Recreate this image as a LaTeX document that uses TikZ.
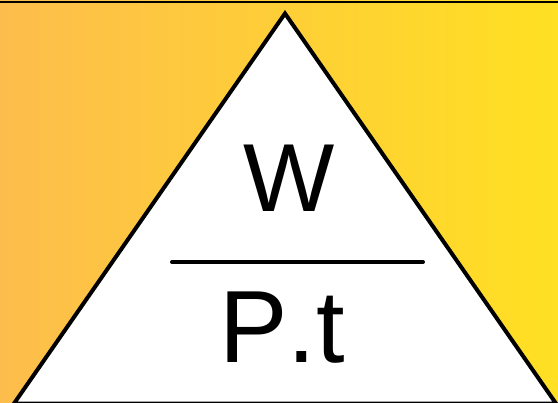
\documentclass[tikz,border=0pt]{standalone}
\usepackage{fontspec}
\setmainfont{Liberation Sans}[Kerning=Off]
\definecolor{bgleft}{RGB}{253,189,76}
\definecolor{bgright}{RGB}{255,224,34}
\tikzset{
  outline/.style={draw=black, line width=4*0.75pt, line join=miter},
  bar/.style={draw=black, line width=4*0.75pt, line cap=round},
  big/.style={inner sep=0pt, text=black}
}
\begin{document}
\begin{tikzpicture}[x=0.75pt, y=-0.75pt]
  \useasboundingbox (0,0) rectangle (558,403);
  \shade[left color=bgleft, right color=bgright] (0,0) rectangle (558,403);
  \coordinate (tl) at (0,2);
  \coordinate (tr) at (558,2);
  \draw[black, line width=2.2*0.75pt] (tl) -- (tr);
  \coordinate (apex) at (285,13.5);
  \coordinate (bl) at (14,403.5);
  \coordinate (br) at (556,403.5);
  \filldraw[fill=white, outline] (apex) -- (br) -- (bl) -- cycle;
  \coordinate (la) at (172,262);
  \coordinate (lb) at (423,262);
  \draw[bar] (la) -- (lb);
  \node[big, anchor=base, font=\fontsize{72.5}{80}\selectfont] (w) at (289,211.5) {W};
  \node[big, anchor=base west, font=\fontsize{77}{84}\selectfont] (pt) at (219,362) {P.t};
\end{tikzpicture}
\end{document}
